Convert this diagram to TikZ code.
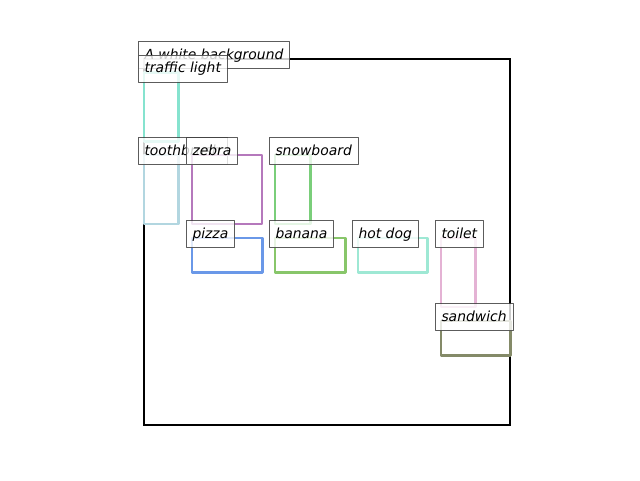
\documentclass[tikz,border=0pt]{standalone}
\usepackage{fontspec}
\setmainfont{DejaVu Sans}
\usetikzlibrary{positioning}
\definecolor{tlcol}{HTML}{86E3CF}
\definecolor{toothcol}{HTML}{B2D6E0}
\definecolor{zebracol}{HTML}{B578BC}
\definecolor{snowcol}{HTML}{7ACE7A}
\definecolor{pizzacol}{HTML}{6A98E8}
\definecolor{bananacol}{HTML}{88C66A}
\definecolor{hotdogcol}{HTML}{9EE8D4}
\definecolor{toiletcol}{HTML}{E4B2D4}
\definecolor{sandcol}{HTML}{848A68}
\tikzset{
  every picture/.append style={line cap=round,line join=round},
  det frame/.style={black,line width=2pt,line join=miter},
  det box/.style={line width=2.6pt},
  det tag/.style={anchor=base west,xshift=-6.5pt,inner sep=6.5pt,
    text height=10.6pt,text depth=3.4pt,
    font=\fontsize{13.9}{16}\selectfont\itshape,
    fill=white,fill opacity=0.8,text opacity=1,
    draw=black!75,draw opacity=0.85,line width=1pt}
}
\begin{document}
\begin{tikzpicture}[x=1pt,y=-1pt]
  \useasboundingbox (0,0) rectangle (640,480);
  % image frame and caption
  \draw[det frame] (144,59) rectangle (510,425);
  \node[det tag] (caption) at (144,59) {A white background};
  % detections: x/y/width/height/colour/name/label
  \foreach \x/\y/\w/\h/\c/\n/\t in {
      144/72.5/34.5/69/tlcol/light/traffic light,
      144/155/34.5/69/toothcol/brush/toothbrush,
      192/155/70/69/zebracol/zebra/zebra,
      275/155/35.5/69/snowcol/board/snowboard,
      192/238/70.5/34.5/pizzacol/pizza/pizza,
      275/238/70.5/34.5/bananacol/banana/banana,
      358/238/69.5/34.5/hotdogcol/hotdog/hot dog,
      441/238/34.5/69/toiletcol/toilet/toilet,
      441/321/69.5/34.5/sandcol/sandwich/sandwich} {
    \draw[det box,draw=\c] (\x,\y) rectangle ++(\w,\h);
    \node[det tag] (\n) at (\x,\y) {\t};
  }
\end{tikzpicture}
\end{document}
